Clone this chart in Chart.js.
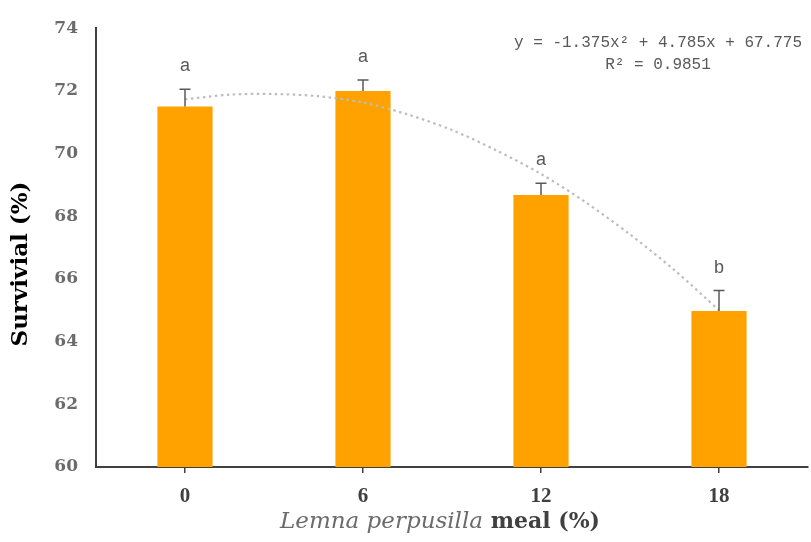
<!DOCTYPE html>
<html>
<head>
<meta charset="utf-8">
<script src="https://cdn.jsdelivr.net/npm/chart.js@4.4.1/dist/chart.umd.min.js"></script>
<style>
  html, body { margin: 0; padding: 0; background: #fff; }
  #wrap { width: 811px; height: 542px; position: relative; }
</style>
</head>
<body>
<div id="wrap"><canvas id="survivalChart"></canvas></div>
<script>
// Survival by Lemna perpusilla meal level
const mealLevels = ['0', '6', '12', '18'];
const survival = [71.5, 72.0, 68.68, 64.98];
const errorTop = [72.05, 72.35, 69.05, 65.63];
const letters = ['a', 'a', 'a', 'b'];

// polynomial trendline (position in category units)
const trendPos = [0, 0.25, 0.5, 0.75, 1, 1.25, 1.5, 1.75, 2, 2.25, 2.5, 2.75, 3];
const trendVal = [71.73, 71.88, 71.9, 71.83, 71.63, 71.25, 70.75, 70.1, 69.35, 68.45, 67.42, 66.28, 65.0];

const yTicks = [60, 62, 64, 66, 68, 70, 72, 74];
const equationText = 'y = -1.375x\u00b2 + 4.785x + 67.775';
const r2Text = 'R\u00b2 = 0.9851';

const annotations = {
    id: 'annotations',
    afterDatasetsDraw(chart) {
        const ctx = chart.ctx;
        const y = chart.scales.y;
        const bars = chart.getDatasetMeta(1).data;
        ctx.save();

        // error bars (upper only)
        ctx.strokeStyle = '#595959';
        ctx.lineWidth = 1.5;
        bars.forEach((bar, i) => {
            const top = y.getPixelForValue(errorTop[i]);
            ctx.beginPath();
            ctx.moveTo(bar.x, bar.y);
            ctx.lineTo(bar.x, top);
            ctx.moveTo(bar.x - 5.5, top);
            ctx.lineTo(bar.x + 5.5, top);
            ctx.stroke();
        });

        // significance letters
        ctx.fillStyle = '#595959';
        ctx.font = '18px "Liberation Sans"';
        ctx.textAlign = 'center';
        ctx.textBaseline = 'middle';
        bars.forEach((bar, i) => {
            const top = y.getPixelForValue(errorTop[i]);
            ctx.fillText(letters[i], bar.x, top - 23);
        });
        ctx.restore();
    },
    afterDraw(chart) {
        const ctx = chart.ctx;
        const area = chart.chartArea;
        ctx.save();

        // trendline equation
        ctx.fillStyle = '#595959';
        ctx.font = '16px "Liberation Mono"';
        ctx.textAlign = 'center';
        ctx.textBaseline = 'middle';
        ctx.fillText(equationText, area.right - 150, 43);
        ctx.fillText(r2Text, area.right - 150, 65);

        // y axis title
        ctx.translate(21, 264);
        ctx.rotate(-Math.PI / 2);
        ctx.fillStyle = '#000';
        ctx.font = 'bold 23px "DejaVu Serif"';
        ctx.fillText('Survivial (%)', 0, 0);
        ctx.setTransform(1, 0, 0, 1, 0, 0);

        // x axis title: italic species name + bold rest
        const part1 = 'Lemna perpusilla';
        const part2 = ' meal (%)';
        const f1 = 'italic 23px "DejaVu Serif"';
        const f2 = 'bold 22px "DejaVu Serif"';
        ctx.textAlign = 'left';
        ctx.font = f1;
        const w1 = ctx.measureText(part1).width;
        ctx.font = f2;
        const w2 = ctx.measureText(part2).width;
        const startX = 440 - (w1 + w2) / 2;
        ctx.font = f1;
        ctx.fillStyle = '#6b6b6b';
        ctx.fillText(part1, startX, 522);
        ctx.font = f2;
        ctx.fillStyle = '#404040';
        ctx.fillText(part2, startX + w1, 522);
        ctx.restore();
    }
};

new Chart(document.getElementById('survivalChart'), {
    data: {
        labels: mealLevels,
        datasets: [{
            type: 'line',
            label: 'Poly. trend',
            data: trendPos.map((p, i) => ({ x: p, y: trendVal[i] })),
            xAxisID: 'xT',
            borderColor: '#BDBDBD',
            borderWidth: 2.2,
            borderDash: [2.5, 3.5],
            pointRadius: 0,
            tension: 0.3,
            fill: false,
            order: 0
        }, {
            type: 'bar',
            label: 'Survival',
            data: survival,
            backgroundColor: '#FFA200',
            borderWidth: 0,
            grouped: false,
            categoryPercentage: 1,
            barPercentage: 0.31,
            order: 1
        }]
    },
    options: {
        responsive: true,
        maintainAspectRatio: false,
        animation: false,
        layout: { padding: { top: 13, right: 3, bottom: 0, left: 0 } },
        plugins: {
            legend: { display: false },
            tooltip: { enabled: false }
        },
        scales: {
            x: {
                type: 'category',
                offset: true,
                grid: {
                    offset: false,
                    drawOnChartArea: false,
                    drawTicks: true,
                    tickLength: 6,
                    color: '#404040',
                    lineWidth: 1.5
                },
                border: { display: true, color: '#404040', width: 2 },
                ticks: {
                    color: '#404040',
                    font: { family: 'Liberation Serif', size: 21, weight: 'bold' },
                    padding: 11
                },
                afterFit: s => { s.height = 75; }
            },
            xT: {
                type: 'linear',
                display: false,
                min: -0.5,
                max: 3.5
            },
            y: {
                min: 60,
                max: 74,
                afterBuildTicks: s => { s.ticks = yTicks.map(v => ({ value: v })); },
                grid: { display: false, drawTicks: false },
                border: { display: true, color: '#404040', width: 2 },
                ticks: {
                    color: '#6b6b6b',
                    font: { family: 'DejaVu Serif', size: 17, weight: 'bold' },
                    padding: 18
                },
                afterFit: s => { s.width = 96; }
            }
        }
    },
    plugins: [annotations]
});
</script>
</body>
</html>
